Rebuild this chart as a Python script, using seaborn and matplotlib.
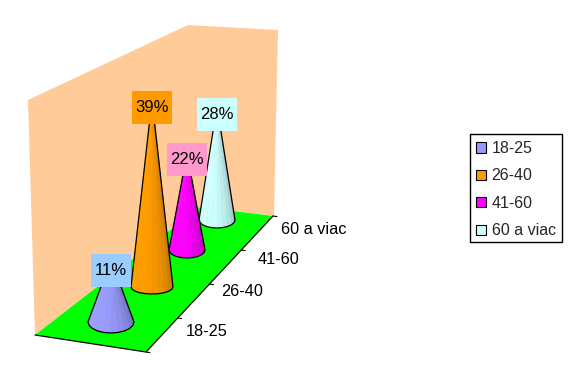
import numpy as np
import matplotlib.pyplot as plt
from matplotlib.patches import Patch, Polygon, Rectangle
import seaborn as sns

sns.set_theme(style="white")
plt.rcParams["font.family"] = ["Liberation Sans", "DejaVu Sans"]

## DATA
categories = ["18-25", "26-40", "41-60", "60 a viac"]
values = [11, 39, 22, 28]
value_labels = ["11%", "39%", "22%", "28%"]

cone_colors = ["#9999FF", "#FF9900", "#FF00FF", "#CCFFFF"]
label_colors = ["#99CCFF", "#FF9900", "#FF99CC", "#CCFFFF"]
palette = sns.color_palette(cone_colors)

## LAYOUT (pixels of the picture, the fake 3d projection)
base_x = [111, 152, 187, 217]
base_y = [322, 287, 250, 220]
base_rx = [23, 21, 18, 18]
base_ry = [11, 7, 8, 8]
px_per_percent = [5.7, 4.8, 4.4, 4.07]
label_drop = [11, 8, 6, 8]
cat_label_pos = [(207, 331), (242, 292), (279, 259), (314, 229)]

wall = [(28, 100), (188, 25), (278, 30), (274, 216), (200, 207), (35, 335)]
floor = [(35, 335), (146, 352), (273, 216), (200, 207)]


def shade(color, t):
    # t=0 light side, t=1 dark side
    c = np.array(color)
    k = 1.03 - 0.28 * t ** 2
    return tuple(np.clip(c * k, 0, 1))


def draw_cone(ax, x, y, rx, ry, height, color, z):
    tip = (x, y - height)
    n = 10
    ang = np.linspace(np.pi, 0, n + 1)
    xs = x + rx * np.cos(ang)
    ys = y + ry * np.sin(ang)
    for i in range(n):
        t = i / (n - 1)
        c = shade(color, abs(t - 0.15) / 0.85)
        ax.add_patch(Polygon([tip, (xs[i], ys[i]), (xs[i + 1], ys[i + 1])],
                             facecolor=c, edgecolor=c, linewidth=0.3, zorder=z))
    outline = [(xs[0], ys[0]), tip, (xs[-1], ys[-1])] + list(zip(xs[::-1], ys[::-1]))
    ax.add_patch(Polygon(outline, closed=True, fill=False, edgecolor="black",
                         linewidth=0.9, zorder=z + 0.1))


fig = plt.figure(figsize=(5.68, 3.68), dpi=100, facecolor="white")
ax = fig.add_axes([0, 0, 1, 1])
ax.set_xlim(0, 568)
ax.set_ylim(368, 0)
ax.axis("off")

ax.add_patch(Polygon(wall, facecolor="#FFCC99", edgecolor="none", zorder=1))
ax.add_patch(Polygon(floor, facecolor="#00FF00", edgecolor="none", zorder=2))
ax.plot([35, 146, 273], [335, 352, 216], color="black", lw=0.9, zorder=3)

# ticks along the right floor edge
for frac in [0, 0.25, 0.5, 0.75, 1]:
    tx = 146 + (273 - 146) * frac
    ty = 352 + (216 - 352) * frac
    ax.plot([tx, tx + 4], [ty, ty + 0.6], color="black", lw=0.8, zorder=3)

# back to front so nearer cones cover the others
for i in range(len(values) - 1, -1, -1):
    height = values[i] * px_per_percent[i]
    z = 10 + (len(values) - i) * 2
    draw_cone(ax, base_x[i], base_y[i], base_rx[i], base_ry[i], height, palette[i], z)
    tip_y = base_y[i] - height
    cy = tip_y + label_drop[i]
    ax.add_patch(Rectangle((base_x[i] - 20, cy - 16.5), 40, 33,
                           facecolor=label_colors[i], edgecolor="none", zorder=z + 0.5))
    ax.text(base_x[i], cy, value_labels[i], ha="center", va="center",
            fontsize=12, color="black", zorder=z + 0.6)

for cat, (lx, ly) in zip(categories, cat_label_pos):
    ax.text(lx, ly, cat, ha="center", va="center", fontsize=11.7, color="black", zorder=5)

# legend frame is drawn apart, the picture has uneven padding
ax.add_patch(Rectangle((469.5, 133.5), 92, 108.5, facecolor="white", edgecolor="black",
                       linewidth=1.0, zorder=29))
handles = [Patch(facecolor=c, edgecolor="black", linewidth=0.8) for c in cone_colors]
leg = ax.legend(handles, categories, loc="upper left",
                bbox_to_anchor=(476 / 568, 1 - 141 / 368), borderaxespad=0,
                fontsize=11.5, frameon=False, handlelength=0.62, handleheight=0.62,
                handletextpad=0.36, labelspacing=0.78, borderpad=0)
leg.set_zorder(30)

fig.savefig("out.png", dpi=100)
